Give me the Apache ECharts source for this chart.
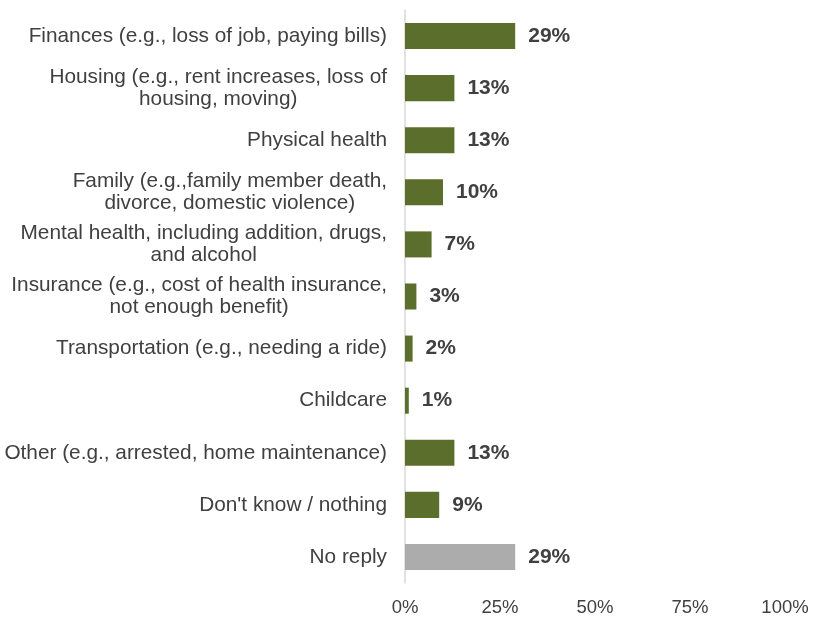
<!DOCTYPE html>
<html>
<head>
<meta charset="utf-8">
<script src="https://cdn.jsdelivr.net/npm/echarts@6/dist/echarts.min.js"></script>
<style>
  html, body { margin: 0; padding: 0; background: #ffffff; }
  #chart { width: 820px; height: 618px; }
</style>
</head>
<body>
<div id="chart"></div>
<script>
// Reported sources of financial/life stress, share of respondents
const categories = [
  'Finances (e.g., loss of job, paying bills)',
  'Housing (e.g., rent increases, loss of\nhousing, moving)',
  'Physical health',
  'Family (e.g.,family member death,\ndivorce, domestic violence)',
  'Mental health, including addition, drugs,\nand alcohol',
  'Insurance (e.g., cost of health insurance,\nnot enough benefit)',
  'Transportation (e.g., needing a ride)',
  'Childcare',
  'Other (e.g., arrested, home maintenance)',
  "Don't know / nothing",
  'No reply'
];
const values = [29, 13, 13, 10, 7, 3, 2, 1, 13, 9, 29];
const xTicks = [0, 25, 50, 75, 100];

const GREEN = '#5b6e2b';
const GREY = '#acacac';
const TEXT = '#404040';
const FONT = '"Liberation Sans", Arial, sans-serif';

const chart = echarts.init(document.getElementById('chart'), null, { renderer: 'canvas' });

chart.setOption({
  animation: false,
  backgroundColor: '#ffffff',
  grid: { left: 405, right: 35, top: 10, bottom: 35, containLabel: false },
  xAxis: {
    type: 'value',
    min: xTicks[0],
    max: xTicks[xTicks.length - 1],
    interval: xTicks[1] - xTicks[0],
    axisLine: { show: false },
    axisTick: { show: false },
    splitLine: { show: false },
    axisLabel: {
      formatter: '{value}%',
      color: TEXT,
      fontFamily: FONT,
      fontSize: 18.5,
      margin: 15
    }
  },
  yAxis: {
    type: 'category',
    inverse: true,
    data: categories,
    axisLine: { show: true, lineStyle: { color: '#d9d9d9', width: 1.5 } },
    axisTick: { show: false },
    axisLabel: {
      color: TEXT,
      fontFamily: FONT,
      fontSize: 20.8,
      lineHeight: 22,
      margin: 18,
      align: 'right',
      // each line is centred inside the right-aligned label block
      formatter: (name) => name.split('\n').map(l => '{c|' + l + '}').join('\n'),
      rich: {
        c: {
          align: 'center',
          color: TEXT,
          fontFamily: FONT,
          fontSize: 20.8,
          lineHeight: 22
        }
      }
    }
  },
  series: [{
    type: 'bar',
    barWidth: '50%',
    data: values.map((v, i) => ({
      value: v,
      itemStyle: { color: i === values.length - 1 ? GREY : GREEN }
    })),
    label: {
      show: true,
      position: 'right',
      distance: 13,
      formatter: '{c}%',
      color: TEXT,
      fontFamily: FONT,
      fontSize: 21,
      fontWeight: 'bold'
    }
  }]
});
</script>
</body>
</html>
